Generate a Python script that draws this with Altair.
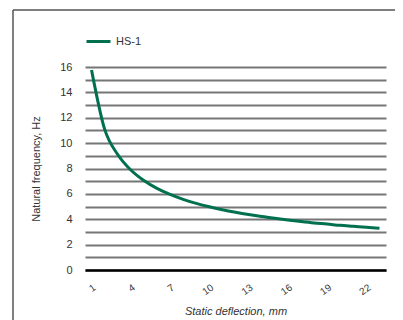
import altair as alt
import pandas as pd

deflection_mm = list(range(1, 24))
frequency_hz = [15.76, 11.1, 9.1, 7.88, 7.05, 6.43, 5.96, 5.57, 5.25, 4.98,
                4.75, 4.55, 4.37, 4.21, 4.07, 3.94, 3.82, 3.71, 3.62, 3.52,
                3.44, 3.36, 3.29]
series_name = "HS-1"
x_tick_values = [1, 4, 7, 10, 13, 16, 19, 22]
y_tick_values = list(range(0, 17))

df = pd.DataFrame({"d": deflection_mm, "f": frequency_hz, "s": series_name})

FONT = "Liberation Sans"

line = alt.Chart(df).mark_line(strokeWidth=3, interpolate="monotone").encode(
    x=alt.X("d:Q", scale=alt.Scale(domain=[0.5, 23.5], nice=False, zero=False),
            axis=alt.Axis(values=x_tick_values, labelAngle=325, labelAlign="right",
                          labelBaseline="top", ticks=False, grid=False,
                          domainColor="#000000", domainWidth=2.5, labelPadding=12,
                          labelFontSize=10,
                          title="Static deflection, mm", titleFontStyle="italic",
                          titleFontWeight="normal", titlePadding=9)),
    y=alt.Y("f:Q", scale=alt.Scale(domain=[0, 16], nice=False),
            axis=alt.Axis(values=y_tick_values, ticks=False, domain=False,
                          gridColor="#767676", gridWidth=2, gridOpacity=1,
                          labelExpr="datum.value % 2 == 0 ? datum.label : ''",
                          labelPadding=13, title="Natural frequency, Hz",
                          titleFontWeight="normal", titlePadding=18)),
    color=alt.Color("s:N", scale=alt.Scale(range=["#00704f"]),
                    legend=alt.Legend(title=None, orient="none", legendX=0, legendY=-39,
                                      symbolType="stroke", symbolSize=576,
                                      symbolStrokeWidth=3, labelFontSize=11,
                                      labelFont=FONT, labelColor="#333333")),
)

border = alt.Chart(pd.DataFrame({"k": [0]})).mark_rule(color="#555555", strokeWidth=1.5).encode(
    x=alt.value(-72), y=alt.value(-57), y2=alt.value(260)
) + alt.Chart(pd.DataFrame({"k": [0]})).mark_rule(color="#555555", strokeWidth=1.5).encode(
    x=alt.value(-72), x2=alt.value(330), y=alt.value(-57)
)

chart = alt.layer(border, line).properties(
    width=301, height=203, autosize="none",
    padding={"left": 77, "top": 59, "right": 9, "bottom": 50}
).configure_view(stroke=None).configure_axis(
    labelFont=FONT, titleFont=FONT, labelFontSize=11, titleFontSize=11,
    labelColor="#333333", titleColor="#333333"
)

chart.save("out.html", embed_options={"renderer": "svg", "actions": False})
